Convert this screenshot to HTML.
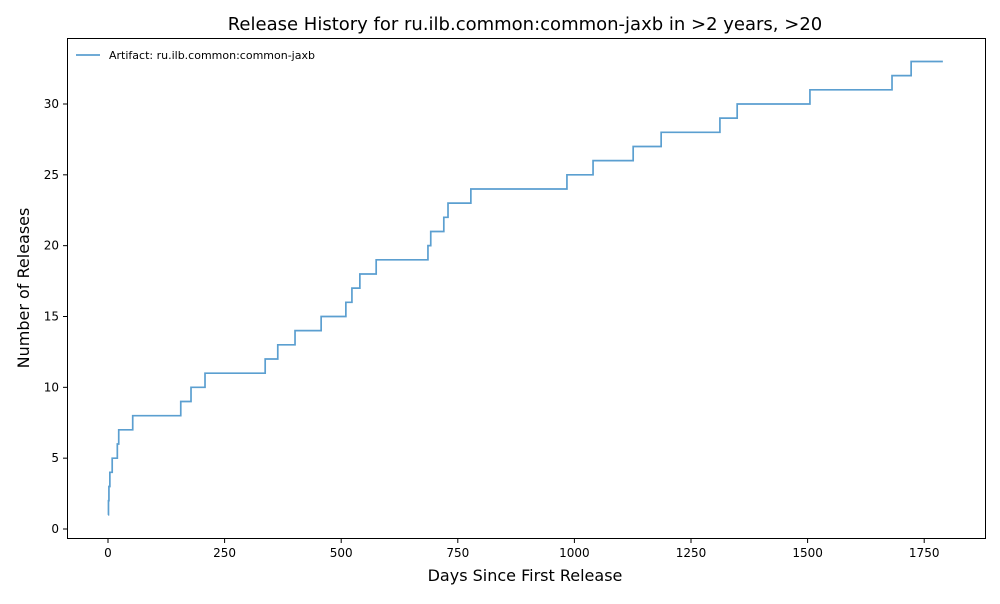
<!DOCTYPE html>
<html><head><meta charset="utf-8"><style>
body{margin:0;background:#fff;font-family:"DejaVu Sans","Liberation Sans",sans-serif;}
svg text{font-family:"DejaVu Sans","Liberation Sans",sans-serif;}
</style></head><body>
<svg id="chart" width="1000" height="600" xmlns="http://www.w3.org/2000/svg">
<rect width="1000" height="600" fill="#fff"/>
<text x="525" y="30" font-size="18" text-anchor="middle">Release History for ru.ilb.common:common-jaxb in &gt;2 years, &gt;20</text>
<g id="xt"></g><g id="yt"></g>
<path id="line" fill="none" stroke="#5b9fd0" stroke-width="1.7"/>
<rect x="67.5" y="38.5" width="918" height="500" fill="none" stroke="#000" stroke-width="1"/>
<g>
<line x1="76" y1="55" x2="100" y2="55" stroke="#5b9fd0" stroke-width="1.7"/>
<text x="109" y="59" font-size="11">Artifact: ru.ilb.common:common-jaxb</text>
</g>
<text x="525" y="581" font-size="16" text-anchor="middle">Days Since First Release</text>
<text transform="translate(29,288) rotate(-90)" font-size="16" text-anchor="middle">Number of Releases</text>
</svg>
<script>
const days=[0,1,2,4,9,20,23,53,156,178,208,337,364,401,457,510,523,540,575,686,692,720,729,778,984,1040,1126,1186,1312,1349,1505,1681,1722];
const counts=[1,2,3,4,5,6,7,8,9,10,11,12,13,14,15,16,17,18,19,20,21,22,23,24,25,26,27,28,29,30,31,32,33];
const lastDay=1790;
const xTicks=[0,250,500,750,1000,1250,1500,1750];
const yTicks=[0,5,10,15,20,25,30];
const X=d=>108+d*0.4664;
const Y=v=>529-v*14.167;
const ns="http://www.w3.org/2000/svg";
let d="M"+X(days[0])+","+Y(counts[0]);
for(let i=1;i<days.length;i++){d+=" H"+X(days[i])+" V"+Y(counts[i]);}
d+=" H"+X(lastDay);
document.getElementById('line').setAttribute('d',d);
const xt=document.getElementById('xt');
xTicks.forEach(t=>{
 const l=document.createElementNS(ns,'line');
 l.setAttribute('x1',X(t));l.setAttribute('x2',X(t));l.setAttribute('y1',538.5);l.setAttribute('y2',543);l.setAttribute('stroke','#000');
 
 
 xt.appendChild(l);
 const s=document.createElementNS(ns,'text');
 s.setAttribute('x',X(t));s.setAttribute('y',557);s.setAttribute('font-size','12');s.setAttribute('text-anchor','middle');
 s.textContent=t;
 
 
 xt.appendChild(s);
});
const yt=document.getElementById('yt');
yTicks.forEach(t=>{
 const l=document.createElementNS(ns,'line');
 l.setAttribute('x1',63);l.setAttribute('x2',67.5);l.setAttribute('y1',Y(t));l.setAttribute('y2',Y(t));l.setAttribute('stroke','#000');
 
 
 yt.appendChild(l);
 const s=document.createElementNS(ns,'text');
 s.setAttribute('x',59);s.setAttribute('y',Y(t)+4);s.setAttribute('font-size','12');s.setAttribute('text-anchor','end');
 s.textContent=t;
 
 
 yt.appendChild(s);
});
</script>
</body></html>
